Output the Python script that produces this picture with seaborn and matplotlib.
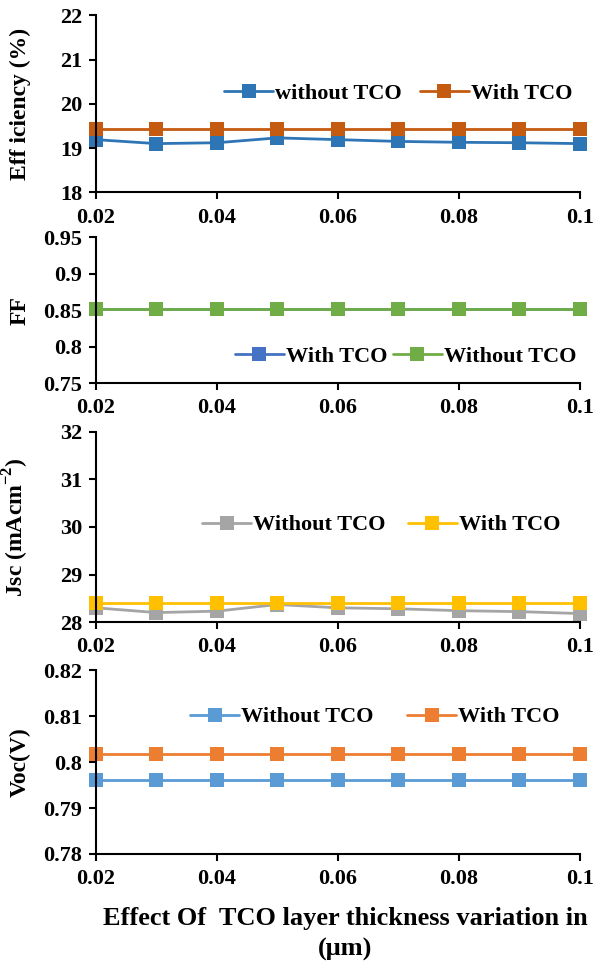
import matplotlib
matplotlib.use("Agg")
import matplotlib.pyplot as plt
import seaborn as sns
import pandas as pd

sns.set_style("ticks")
plt.rcParams['font.family'] = ['Liberation Serif', 'DejaVu Serif']
plt.rcParams['font.weight'] = 'bold'
plt.rcParams['text.color'] = 'black'
plt.rcParams['axes.labelcolor'] = 'black'
plt.rcParams['xtick.color'] = 'black'
plt.rcParams['ytick.color'] = 'black'
plt.rcParams['mathtext.fontset'] = 'custom'
plt.rcParams['mathtext.rm'] = 'Liberation Serif:bold'
plt.rcParams['mathtext.bf'] = 'Liberation Serif:bold'

# ---- data ----
thickness = [0.02, 0.03, 0.04, 0.05, 0.06, 0.07, 0.08, 0.09, 0.10]

eff_without = [19.19, 19.10, 19.12, 19.23, 19.19, 19.15, 19.13, 19.12, 19.10]
eff_with = [19.42, 19.42, 19.42, 19.42, 19.42, 19.42, 19.42, 19.42, 19.42]

ff_with = [0.852, 0.852, 0.852, 0.852, 0.852, 0.852, 0.852, 0.852, 0.852]
ff_without = [0.852, 0.852, 0.852, 0.852, 0.852, 0.852, 0.852, 0.852, 0.852]

jsc_without = [28.30, 28.20, 28.23, 28.37, 28.30, 28.28, 28.24, 28.22, 28.18]
jsc_with = [28.41, 28.41, 28.41, 28.41, 28.41, 28.41, 28.41, 28.41, 28.41]

voc_without = [0.7962, 0.7962, 0.7962, 0.7962, 0.7962, 0.7962, 0.7962, 0.7962, 0.7962]
voc_with = [0.8018, 0.8018, 0.8018, 0.8018, 0.8018, 0.8018, 0.8018, 0.8018, 0.8018]

x_ticks = [0.02, 0.04, 0.06, 0.08, 0.1]
x_ticklabels = ["0.02", "0.04", "0.06", "0.08", "0.1"]

fig = plt.figure(figsize=(6.11, 9.66), dpi=100)

L, W = 0.157, 0.792
panels = [
    dict(rect=[L, 0.801, W, 0.183],
         series=[("without TCO", eff_without, "#2E75B6"), ("With TCO", eff_with, "#C55A11")],
         ylim=(18, 22), yticks=[18, 19, 20, 21, 22],
         yticklabels=["18", "19", "20", "21", "22"],
         ylabel="Eff iciency (%)", leg=(0.625, 0.56), cs=0.8),
    dict(rect=[L, 0.6035, W, 0.151],
         series=[("With TCO", ff_with, "#4472C4"), ("Without TCO", ff_without, "#70AD47")],
         ylim=(0.75, 0.95), yticks=[0.75, 0.8, 0.85, 0.9, 0.95],
         yticklabels=["0.75", "0.8", "0.85", "0.9", "0.95"],
         ylabel="FF", leg=(0.64, 0.18), cs=0.25),
    dict(rect=[L, 0.356, W, 0.197],
         series=[("Without TCO", jsc_without, "#A5A5A5"), ("With TCO", jsc_with, "#FFC000")],
         ylim=(28, 32), yticks=[28, 29, 30, 31, 32],
         yticklabels=["28", "29", "30", "31", "32"],
         ylabel=r"Jsc (mAcm$^{-2}$)", leg=(0.59, 0.51), cs=1.0),
    dict(rect=[L, 0.116, W, 0.190],
         series=[("Without TCO", voc_without, "#5B9BD5"), ("With TCO", voc_with, "#ED7D31")],
         ylim=(0.78, 0.82), yticks=[0.78, 0.79, 0.80, 0.81, 0.82],
         yticklabels=["0.78", "0.79", "0.8", "0.81", "0.82"],
         ylabel="Voc(V)", leg=(0.577, 0.745), cs=1.5),
]

for p in panels:
    ax = fig.add_axes(p["rect"])
    for name, vals, col in p["series"]:
        df = pd.DataFrame({"x": thickness, "y": vals})
        sns.lineplot(data=df, x="x", y="y", ax=ax, color=col, marker="s",
                     markersize=10, markeredgewidth=0, linewidth=2, label=name,
                     clip_on=False)
    ax.set_xlim(0.02, 0.1)
    ax.set_ylim(*p["ylim"])
    ax.set_xticks(x_ticks)
    ax.set_xticklabels(x_ticklabels, fontsize=16, fontweight="bold")
    ax.set_yticks(p["yticks"])
    ax.set_yticklabels(p["yticklabels"], fontsize=16, fontweight="bold")
    ax.set_xlabel("")
    ax.set_ylabel(p["ylabel"], fontsize=17, fontweight="bold")
    ax.yaxis.set_label_coords(-0.135, 0.5)
    sns.despine(ax=ax)
    for s in ["left", "bottom"]:
        ax.spines[s].set_linewidth(1.5)
        ax.spines[s].set_color("black")
    ax.tick_params(axis="both", direction="out", length=5, width=1.5, colors="black")
    ax.tick_params(axis="y", pad=5)
    ax.tick_params(axis="x", pad=6)
    ax.legend(loc="center", bbox_to_anchor=p["leg"], ncol=2, frameon=False,
              prop={"family": "Liberation Serif", "weight": "bold", "size": 16},
              handlelength=2.2, handletextpad=0.1, columnspacing=p["cs"],
              numpoints=1, labelcolor="black")

fig.text(0.565, 0.033, "Effect Of  TCO layer thickness variation in\n(\u03bcm)",
         ha="center", va="center", fontsize=19, fontweight="bold",
         linespacing=1.4, color="black")

fig.savefig("out.png", dpi=100)
